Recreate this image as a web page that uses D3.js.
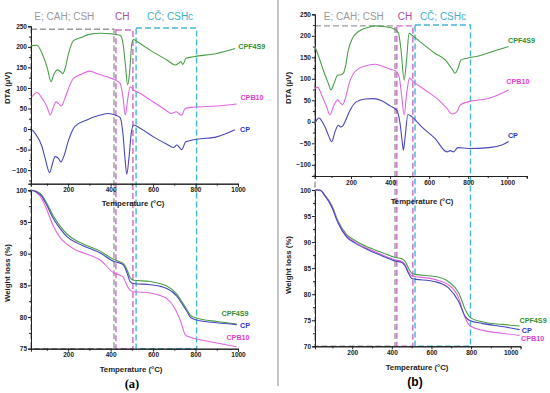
<!DOCTYPE html>
<html>
<head>
<meta charset="utf-8">
<script src="https://cdn.jsdelivr.net/npm/d3@7"></script>
<style>
  body { margin: 0; background: #fff; }
  svg { display: block; font-family: "Liberation Sans", Arial, sans-serif; }
</style>
</head>
<body>
<div id="chart"></div>
<script>
// ---- data (temperature in °C, DTA in µV, weight in %) ----
var seriesNames = ["CPF4S9", "CPB10", "CP"]

var dtaA_CPF4S9 = [[26,203],[53,204],[77,184],[100,152],[120,115],[131,131],[150,144],[163,140],[175,135],[186,148],[202,184],[225,215],[257,222],[304,231],[351,233],[414,231],[445,228],[458,209],[469,160],[480,107],[489,135],[500,209],[508,218],[524,213],[586,192],[665,168],[704,156],[720,160],[731,164],[740,157],[755,172],[790,176],[900,184],[986,196]]
var dtaA_CPB10 = [[30,79],[53,89],[77,75],[100,54],[116,34],[128,50],[143,66],[155,62],[168,56],[182,71],[202,99],[225,123],[265,134],[301,141],[335,135],[382,127],[422,119],[445,111],[458,79],[469,34],[480,71],[492,103],[508,95],[539,87],[586,71],[649,50],[688,38],[709,42],[720,38],[735,34],[751,50],[790,53],[900,56],[994,61]]
var dtaA_CP = [[30,-2],[45,-11],[77,-43],[92,-72],[113,-106],[124,-88],[139,-67],[155,-72],[166,-80],[179,-67],[202,-27],[233,7],[288,22],[351,34],[390,38],[422,34],[445,28],[458,-11],[467,-67],[476,-110],[487,-67],[497,-11],[508,10],[539,2],[602,-19],[665,-37],[696,-45],[712,-39],[735,-50],[754,-31],[806,-25],[900,-19],[986,-2]]

var dtaB_CPF4S9 = [[15,175],[32,155],[58,120],[84,89],[97,74],[113,89],[132,109],[145,109],[161,113],[173,132],[186,167],[207,194],[238,210],[289,220],[323,223],[374,221],[422,216],[443,206],[456,167],[472,97],[485,148],[497,206],[511,202],[562,183],[631,159],[682,144],[716,124],[733,113],[747,124],[764,144],[793,148],[853,153],[921,163],[1007,175]]
var dtaB_CPB10 = [[15,78],[29,80],[50,62],[75,35],[92,16],[109,35],[132,51],[147,43],[157,40],[173,58],[190,89],[221,117],[272,130],[323,134],[357,130],[400,122],[426,119],[446,105],[460,58],[472,16],[485,66],[499,101],[520,93],[579,74],[648,51],[691,31],[716,18],[742,23],[759,39],[802,47],[904,54],[1007,74]]
var dtaB_CP = [[15,-4],[24,4],[36,9],[50,2],[67,-12],[84,-31],[101,-46],[118,-23],[135,-8],[147,-12],[157,-10],[173,4],[195,27],[229,47],[272,53],[315,54],[357,49],[400,37],[434,27],[451,-4],[463,-50],[468,-66],[477,-35],[491,17],[511,12],[562,-12],[631,-39],[691,-70],[708,-67],[725,-70],[747,-60],[802,-62],[904,-60],[973,-54],[1007,-46]]

var tgaA_CPF4S9 = [[26,100],[53,99.8],[77,99.2],[100,97.9],[131,95.9],[163,94.3],[194,93.1],[241,92.0],[273,91.5],[351,90.4],[414,89.1],[445,88.7],[461,88.4],[477,87.5],[492,86.2],[508,85.8],[586,85.6],[640,85.2],[665,84.9],[712,83.6],[740,82.2],[759,81.2],[775,80.3],[790,80.0],[822,79.7],[900,79.3],[994,78.9]]
var tgaA_CPB10 = [[26,100],[53,99.6],[77,98.6],[100,96.9],[131,94.3],[163,92.5],[194,91.5],[241,90.5],[273,90.1],[351,89.0],[414,87.0],[445,86.6],[461,86.2],[477,85.0],[492,84.2],[508,84.0],[586,83.8],[640,83.3],[665,82.9],[700,81.5],[730,79.3],[752,77.2],[775,76.8],[822,76.4],[900,75.9],[994,75.3]]
var tgaA_CP = [[26,100],[53,99.7],[77,99.0],[100,97.6],[131,95.5],[163,93.9],[194,92.7],[241,91.7],[273,91.2],[351,90.1],[414,88.8],[445,88.5],[461,88.2],[477,87.0],[492,85.6],[508,85.3],[586,85.1],[640,84.8],[665,84.5],[712,83.3],[740,81.9],[759,80.9],[775,80.0],[790,79.7],[822,79.4],[900,79.1],[994,78.8]]

var tgaB_CPF4S9 = [[12,100],[36,100],[62,99.0],[96,97.1],[129,94.0],[171,91.5],[214,90.3],[281,89.0],[349,88.0],[416,87.1],[450,86.8],[467,86.3],[484,85.0],[501,84.0],[517,83.8],[619,83.4],[686,82.4],[737,80.3],[771,77.0],[796,75.5],[855,74.7],[956,74.2],[1045,73.9]]
var tgaB_CPB10 = [[12,100],[36,100],[62,98.9],[96,96.9],[129,93.7],[171,91.2],[214,90.0],[281,88.7],[349,87.6],[416,86.6],[450,86.3],[467,85.7],[484,84.3],[501,83.5],[517,83.4],[619,82.8],[686,81.8],[737,79.3],[760,76.5],[771,75.4],[796,73.9],[855,73.1],[956,72.5],[1045,72.1]]
var tgaB_CP = [[12,100],[36,100],[62,98.9],[96,96.8],[129,93.6],[171,91.0],[214,89.8],[281,88.5],[349,87.4],[416,86.4],[450,86.1],[467,85.4],[484,84.0],[501,83.0],[517,82.9],[619,82.4],[686,81.2],[737,78.6],[771,75.7],[796,74.9],[855,74.4],[956,73.8],[1045,73.2]]

// where each curve label sits, in data units [temperature, value]
var labelsDtaA = [[1065,200],[1066,76],[1033,0]]
var labelsDtaB = [[1073,190],[1054,93],[1029,-31]]
var labelsTgaA = [[986,80.6],[1000,76.7],[1033,78.7]]
var labelsTgaB = [[1113,75.0],[1111,71.5],[1081,73.1]]

// decomposition zones: [label, start °C, end °C, top in µV, label °C]
var zonesA = [["E; CAH; CSH",25,416,243,182],["CH",425,505,241,455],["CČ; CSHc",520,805,246,680]]
var zonesB = [["E; CAH; CSH",12,416,223,208],["CH",425,506,223,466],["CČ; CSHc",517,797,225,658]]

var xTicks = [200, 400, 600, 800, 1000]
var dtaTicks = [-100, -50, 0, 50, 100, 150, 200, 250]

// ---- styling ----
var lineColor = ["#4a9e4a", "#e066e0", "#4848b8"]
var textColor = ["#2f8f2f", "#e040d0", "#3434c8"]
var zoneStroke = ["#9a9a9a", "#cc6acc", "#45b5d5"]
var zoneText = ["#9a9a9a", "#a04fa0", "#3fb0cc"]

var svg = d3.select('#chart').append('svg')
  .attr('width', 550)
  .attr('height', 393)

// separator between (a) and (b)
svg.append('line')
  .attr('x1', 278).attr('x2', 278).attr('y1', 0).attr('y2', 386)
  .attr('stroke', '#888').attr('stroke-width', 1)

var line = function (x, y) {
  return d3.line()
    .x(function (d) { return x(d[0]) })
    .y(function (d) { return y(d[1]) })
    .curve(d3.curveMonotoneX)
}

function drawAxes (x, y, yTicks, yMinor, xMinor) {
  var g = svg.append('g')
  var bottom = y.range()[0]
  var left = x.range()[0]
  g.append('g').attr('transform', 'translate(0,' + bottom + ')')
    .call(d3.axisBottom(x).tickValues(xMinor).tickSize(2).tickFormat(''))
  g.append('g').attr('transform', 'translate(0,' + bottom + ')')
    .call(d3.axisBottom(x).tickValues(xTicks).tickSize(3).tickPadding(1).tickFormat(d3.format('d')))
  g.append('g').attr('transform', 'translate(' + left + ',0)')
    .call(d3.axisLeft(y).tickValues(yMinor).tickSize(2).tickFormat(''))
  g.append('g').attr('transform', 'translate(' + left + ',0)')
    .call(d3.axisLeft(y).tickValues(yTicks).tickSize(3).tickPadding(1).tickFormat(d3.format('d')))
  g.selectAll('.domain').attr('stroke', '#222').attr('stroke-width', 1)
  g.selectAll('.tick line').attr('stroke', '#222')
  g.selectAll('text').attr('font-size', 6.5).attr('font-weight', 'bold')
    .attr('fill', '#222').attr('font-family', '"Liberation Sans", Arial, sans-serif')
}

function drawCurves (x, y, curves, labels) {
  curves.forEach(function (c, i) {
    svg.append('path')
      .datum(c)
      .attr('d', line(x, y))
      .attr('fill', 'none')
      .attr('stroke', lineColor[i])
      .attr('stroke-width', 1.1)
  })
  labels.forEach(function (p, i) {
    svg.append('text')
      .attr('x', x(p[0])).attr('y', y(p[1]))
      .attr('text-anchor', 'middle').attr('dominant-baseline', 'central')
      .attr('font-size', 7.2).attr('font-weight', 'bold')
      .attr('fill', textColor[i])
      .text(seriesNames[i])
  })
}

function drawZones (x, yTop, yBottom, zones) {
  zones.forEach(function (z, i) {
    svg.append('rect')
      .attr('x', x(z[1])).attr('y', yTop(z[3]))
      .attr('width', x(z[2]) - x(z[1]))
      .attr('height', yBottom.range()[0] - yTop(z[3]))
      .attr('fill', 'none')
      .attr('stroke', zoneStroke[i])
      .attr('stroke-width', 1.4)
      .attr('stroke-dasharray', '6,3')
    svg.append('text')
      .attr('x', x(z[4])).attr('y', 19.5)
      .attr('text-anchor', 'middle')
      .attr('font-size', 10)
      .attr('fill', zoneText[i])
      .text(z[0])
  })
}

function title (x, y, txt, rotate) {
  svg.append('text')
    .attr('transform', 'translate(' + x + ',' + y + ')' + (rotate ? ' rotate(-90)' : ''))
    .attr('text-anchor', 'middle').attr('dominant-baseline', 'central')
    .attr('font-size', 7.8).attr('font-weight', 'bold').attr('fill', '#222')
    .text(txt)
}

var minorX = d3.range(100, 1100, 200)
var minorXB = d3.range(100, 1200, 200)

// ---- panel (a) ----
var xA = d3.scaleLinear().domain([25, 1000]).range([31, 238])
var yDtaA = d3.scaleLinear().domain([-133, 250]).range([183.7, 26.3])
var yTgaA = d3.scaleLinear().domain([75, 100]).range([348.7, 190.3])

drawZones(xA, yDtaA, yTgaA, zonesA)
drawAxes(xA, yDtaA, dtaTicks, d3.range(-125, 250, 50), minorX)
drawAxes(xA, yTgaA, d3.range(75, 101, 5), d3.range(77.5, 100, 5), minorX)
drawCurves(xA, yDtaA, [dtaA_CPF4S9, dtaA_CPB10, dtaA_CP], labelsDtaA)
drawCurves(xA, yTgaA, [tgaA_CPF4S9, tgaA_CPB10, tgaA_CP], labelsTgaA)
title(7, 88, 'DTA (µV)', true)
title(7, 273, 'Weight loss (%)', true)
title(133, 203, 'Temperature (°C)')
title(131, 369, 'Temperature (°C)')
svg.append('text').attr('x', 132).attr('y', 388)
  .attr('text-anchor', 'middle').attr('font-size', 12.5).attr('font-weight', 'bold')
  .attr('font-family', '"Liberation Serif", "Times New Roman", serif')
  .text('(a)')

// ---- panel (b) ----
var xDtaB = d3.scaleLinear().domain([15, 1100]).range([314.9, 526.8])
var xTgaB = d3.scaleLinear().domain([12, 1050]).range([315, 520.6])
var yDtaB = d3.scaleLinear().domain([-126, 250]).range([176, 14.3])
var yTgaB = d3.scaleLinear().domain([70, 100]).range([346.3, 190])

drawZones(xTgaB, yDtaB, yTgaB, zonesB)
drawAxes(xDtaB, yDtaB, dtaTicks, d3.range(-125, 250, 50), minorXB)
drawAxes(xTgaB, yTgaB, d3.range(70, 101, 5), d3.range(72.5, 100, 5), minorX)
drawCurves(xDtaB, yDtaB, [dtaB_CPF4S9, dtaB_CPB10, dtaB_CP], labelsDtaB)
drawCurves(xTgaB, yTgaB, [tgaB_CPF4S9, tgaB_CPB10, tgaB_CP], labelsTgaB)
title(288, 88, 'DTA (µV)', true)
title(288, 265, 'Weight loss (%)', true)
title(422, 201, 'Temperature (°C)')
title(417, 367, 'Temperature (°C)')
svg.append('text').attr('x', 415).attr('y', 386)
  .attr('text-anchor', 'middle').attr('font-size', 12).attr('font-weight', 'bold')
  .text('(b)')
</script>
</body>
</html>
